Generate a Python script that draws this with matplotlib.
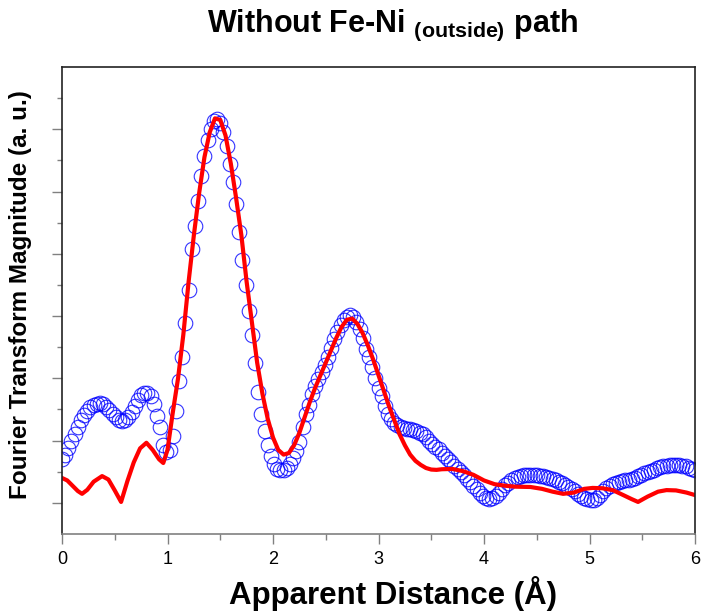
import matplotlib.pyplot as plt
import numpy as np

plt.rcParams['font.family'] = ['Liberation Sans', 'DejaVu Sans']
plt.rcParams['mathtext.fontset'] = 'custom'
plt.rcParams['mathtext.bf'] = 'Liberation Sans:bold'
plt.rcParams['mathtext.rm'] = 'Liberation Sans:bold'

exp_y = [2.40, 2.55, 2.75, 2.98, 3.2, 3.45, 3.65, 3.82, 3.96, 4.07,
         4.15, 4.19, 4.2, 4.16, 4.08, 3.98, 3.87, 3.76, 3.67, 3.63,
         3.65, 3.75, 3.92, 4.12, 4.3, 4.45, 4.53, 4.52, 4.42, 4.18,
         3.8, 3.45, 2.85, 2.62, 2.7, 3.15, 3.95, 4.9, 5.7, 6.78,
         7.85, 9.15, 9.9, 10.7, 11.5, 12.15, 12.65, 13.0, 13.25, 13.32,
         13.2, 12.9, 12.45, 11.9, 11.3, 10.6, 9.7, 8.8, 8.0, 7.15,
         6.4, 5.5, 4.55, 3.85, 3.3, 2.85, 2.5, 2.25, 2.1, 2.04,
         2.06, 2.12, 2.25, 2.45, 2.65, 2.95, 3.45, 3.85, 4.15, 4.5,
         4.75, 4.97, 5.2, 5.42, 5.7, 5.98, 6.25, 6.5, 6.72, 6.88,
         6.98, 7.03, 6.98, 6.82, 6.6, 6.3, 5.95, 5.7, 5.35, 5.0,
         4.7, 4.42, 4.1, 3.85, 3.7, 3.58, 3.5, 3.44, 3.4, 3.38,
         3.36, 3.33, 3.3, 3.26, 3.2, 3.1, 3.0, 2.9, 2.8, 2.72,
         2.6, 2.5, 2.4, 2.3, 2.2, 2.1, 2.0, 1.9, 1.78, 1.66,
         1.54, 1.43, 1.32, 1.23, 1.17, 1.14, 1.15, 1.22, 1.33, 1.45,
         1.56, 1.65, 1.73, 1.79, 1.84, 1.87, 1.89, 1.9, 1.9, 1.9,
         1.89, 1.87, 1.85, 1.82, 1.79, 1.76, 1.72, 1.68, 1.63, 1.58,
         1.52, 1.45, 1.38, 1.3, 1.23, 1.16, 1.11, 1.09, 1.1, 1.16,
         1.26, 1.37, 1.47, 1.55, 1.6, 1.64, 1.67, 1.7, 1.72, 1.75,
         1.78, 1.81, 1.85, 1.9, 1.95, 1.99, 2.03, 2.07, 2.11, 2.15,
         2.18, 2.2, 2.22, 2.23, 2.23, 2.22, 2.2, 2.17, 2.13, 2.08,
         2.04]
exp_x = np.linspace(0, 6, len(exp_y))

# fit without the Fe-Ni (outside) path (red line)
fit_x = [0.0, 0.05, 0.10, 0.15, 0.19, 0.24, 0.30, 0.38, 0.44, 0.50,
         0.56, 0.62, 0.68, 0.74, 0.80, 0.86, 0.92, 0.96, 1.00, 1.05,
         1.10, 1.15, 1.20, 1.25, 1.30, 1.35, 1.40, 1.45, 1.50, 1.55,
         1.60, 1.65, 1.70, 1.75, 1.80, 1.85, 1.90, 1.95, 2.00, 2.05,
         2.10, 2.15, 2.20, 2.25, 2.30, 2.35, 2.40, 2.45, 2.50, 2.55,
         2.60, 2.65, 2.70, 2.75, 2.80, 2.85, 2.90, 2.95, 3.00, 3.05,
         3.10, 3.15, 3.20, 3.25, 3.30, 3.35, 3.40, 3.45, 3.50, 3.55,
         3.60, 3.70, 3.80, 3.90, 4.00, 4.10, 4.20, 4.30, 4.44, 4.55,
         4.65, 4.75, 4.85, 4.95, 5.03, 5.12, 5.22, 5.32, 5.40, 5.46,
         5.55, 5.65, 5.73, 5.82, 5.92, 6.00]
fit_y = [1.8, 1.72, 1.55, 1.38, 1.29, 1.42, 1.68, 1.86, 1.75, 1.4,
         1.03, 1.7, 2.3, 2.75, 2.93, 2.7, 2.4, 2.28, 2.7, 3.9,
         5.0, 6.4, 8.1, 9.6, 10.95, 12.1, 12.9, 13.35, 13.3, 12.8,
         11.9, 10.8, 9.6, 8.1, 6.8, 5.5, 4.5, 3.7, 3.1, 2.7,
         2.55, 2.6, 2.85, 3.25, 3.75, 4.25, 4.7, 5.1, 5.5, 5.9,
         6.3, 6.65, 6.88, 6.92, 6.75, 6.45, 6.05, 5.6, 5.1, 4.6,
         4.1, 3.65, 3.2, 2.85, 2.55, 2.35, 2.22, 2.12, 2.07, 2.06,
         2.08, 2.09, 2.02, 1.9, 1.72, 1.6, 1.55, 1.52, 1.51, 1.45,
         1.36, 1.29, 1.33, 1.45, 1.48, 1.47, 1.41, 1.25, 1.12, 1.03,
         1.2, 1.36, 1.41, 1.4, 1.33, 1.25]

fig = plt.figure(figsize=(7.01, 6.15), dpi=100)
ax = fig.add_axes([62/701, 81/615, 633/701, 467/615])

ax.plot(exp_x, exp_y, 'o', mfc='none', mec='blue', ms=10.5, mew=0.8, alpha=0.8)
ax.plot(fit_x, fit_y, color='red', lw=3)

ax.set_xlim(0, 6)
ax.set_ylim(0, 15)
ax.set_xticks(range(7))
ax.set_xticks(np.arange(0.5, 6, 1), minor=True)
ax.set_yticks(np.arange(1, 15, 2))
ax.set_yticks(np.arange(2, 15, 2), minor=True)
ax.set_yticklabels([])
ax.tick_params(axis='x', which='major', length=7, width=1, color='#808080',
               labelsize=13, pad=5)
ax.tick_params(axis='x', which='minor', length=4, width=1, color='#808080')
ax.tick_params(axis='y', which='major', length=7, width=1, color='#808080')
ax.tick_params(axis='y', which='minor', length=3.5, width=1, color='#808080')
ax.spines['bottom'].set_color('#808080')
for s in ['left', 'top', 'right']:
    ax.spines[s].set_color('#222222')
for s in ax.spines.values():
    s.set_linewidth(1.2)

ax.set_xlabel('Apparent Distance (Å)', fontsize=22.5, fontweight='bold')
ax.xaxis.set_label_coords(0.523, -0.09)
ax.set_ylabel('Fourier Transform Magnitude (a. u.)', fontsize=17.5, fontweight='bold')
ax.yaxis.set_label_coords(-0.047, 0.513)
fig.text(392/701, 1 - 25/615, r'Without Fe-Ni $_{\mathbf{(outside)}}$ path',
         ha='center', va='center', fontsize=22, fontweight='bold')

fig.savefig('out.png', dpi=100)
